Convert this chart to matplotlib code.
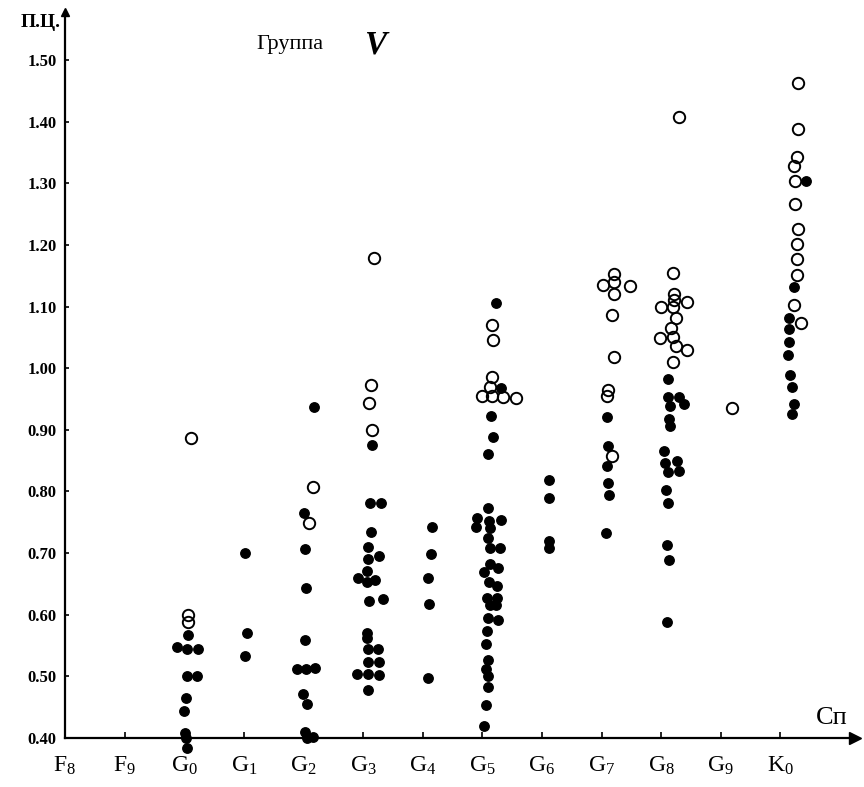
import matplotlib
matplotlib.use('Agg')
import matplotlib.pyplot as plt

# spectral classes along the x axis
classes = [r'$\mathrm{F_8}$', r'$\mathrm{F_9}$', r'$\mathrm{G_0}$', r'$\mathrm{G_1}$',
           r'$\mathrm{G_2}$', r'$\mathrm{G_3}$', r'$\mathrm{G_4}$', r'$\mathrm{G_5}$',
           r'$\mathrm{G_6}$', r'$\mathrm{G_7}$', r'$\mathrm{G_8}$', r'$\mathrm{G_9}$',
           r'$\mathrm{K_0}$']
yticks = [0.40, 0.50, 0.60, 0.70, 0.80, 0.90, 1.00, 1.10, 1.20, 1.30, 1.40, 1.50]

# filled dots: x = class index (with the small side offsets of the drawing), y = colour index
filled_x = [
    2.06, 1.88, 2.05, 2.23, 2.05, 2.22, 2.03, 2.00, 2.01, 2.03, 2.05,  # G0
    3.02, 3.05, 3.02,  # G1
    4.18, 4.01, 4.03, 4.04, 4.03, 3.89, 4.04, 4.20, 3.99, 4.06, 4.03, 4.16, 4.06,  # G2
    5.15, 5.12, 5.30, 5.13, 5.08, 5.27, 5.08, 5.07, 4.92, 5.07, 5.20, 5.10,
    5.34, 5.07, 5.07, 5.08, 5.25, 5.08, 5.27, 4.90, 5.08, 5.27, 5.08,  # G3
    6.16, 6.14, 6.09, 6.11, 6.09,  # G4
    7.23, 7.32, 7.15, 7.18, 7.10, 7.10, 6.91, 7.11, 7.32, 6.90, 7.13, 7.10,
    7.13, 7.30, 7.13, 7.27, 7.03, 7.11, 7.25, 7.08, 7.25, 7.13, 7.23, 7.10,
    7.27, 7.08, 7.06, 7.10, 7.06, 7.10, 7.10, 7.06, 7.03,  # G5
    8.12, 8.12, 8.12, 8.12,  # G6
    9.09, 9.11, 9.09, 9.11, 9.13, 9.08,  # G7
    10.12, 10.12, 10.30, 10.15, 10.39, 10.13, 10.15, 10.05, 10.27, 10.07,
    10.12, 10.30, 10.08, 10.12, 10.10, 10.13, 10.10,  # G8
    12.43, 12.23, 12.15, 12.15, 12.15, 12.13, 12.16, 12.20, 12.22, 12.20,  # K0
]
filled_y = [
    0.567, 0.547, 0.545, 0.544, 0.500, 0.500, 0.465, 0.443, 0.408, 0.400, 0.383,
    0.700, 0.570, 0.533,
    0.937, 0.765, 0.707, 0.644, 0.559, 0.512, 0.512, 0.514, 0.472, 0.455, 0.410, 0.402, 0.400,
    0.876, 0.782, 0.782, 0.735, 0.710, 0.696, 0.691, 0.671, 0.660, 0.653, 0.656, 0.622,
    0.625, 0.570, 0.562, 0.545, 0.545, 0.524, 0.524, 0.503, 0.503, 0.502, 0.478,
    0.743, 0.698, 0.660, 0.618, 0.498,
    1.105, 0.968, 0.923, 0.889, 0.861, 0.773, 0.757, 0.752, 0.753, 0.742, 0.740, 0.725,
    0.708, 0.708, 0.682, 0.675, 0.669, 0.653, 0.647, 0.627, 0.627, 0.616, 0.616, 0.595,
    0.592, 0.573, 0.553, 0.526, 0.512, 0.500, 0.483, 0.453, 0.420,
    0.819, 0.790, 0.720, 0.708,
    0.921, 0.874, 0.841, 0.813, 0.795, 0.732,
    0.982, 0.954, 0.954, 0.939, 0.942, 0.918, 0.906, 0.865, 0.850, 0.846,
    0.831, 0.833, 0.802, 0.782, 0.713, 0.689, 0.588,
    1.303, 1.131, 1.081, 1.063, 1.042, 1.022, 0.989, 0.970, 0.942, 0.925,
]

# open circles
open_x = [
    2.11, 2.06, 2.06,  # G0
    4.16, 4.09,  # G2
    5.19, 5.13, 5.10, 5.15,  # G3
    7.16, 7.18, 7.16, 7.13, 7.00, 7.16, 7.35, 7.57,  # G5
    9.21, 9.03, 9.21, 9.48, 9.20, 9.18, 9.21, 9.11, 9.09, 9.18,  # G7
    10.29, 10.20, 10.22, 10.22, 10.44, 10.00, 10.19, 10.24, 10.17, 9.98,
    10.20, 10.24, 10.44, 10.20,  # G8
    11.19,  # G9
    12.30, 12.30, 12.28, 12.22, 12.25, 12.25, 12.30, 12.27, 12.28, 12.27, 12.22, 12.35,  # K0
]
open_y = [
    0.887, 0.600, 0.588,
    0.807, 0.748,
    1.179, 0.973, 0.944, 0.900,
    1.070, 1.045, 0.985, 0.970, 0.955, 0.955, 0.954, 0.952,
    1.153, 1.135, 1.140, 1.134, 1.121, 1.087, 1.018, 0.965, 0.955, 0.857,
    1.407, 1.155, 1.121, 1.111, 1.108, 1.100, 1.099, 1.082, 1.066, 1.049,
    1.051, 1.036, 1.030, 1.010,
    0.935,
    1.462, 1.388, 1.343, 1.328, 1.303, 1.266, 1.226, 1.202, 1.177, 1.152, 1.103, 1.073,
]

plt.rcParams['font.family'] = ['Liberation Serif', 'DejaVu Serif']
plt.rcParams['mathtext.fontset'] = 'custom'
plt.rcParams['mathtext.rm'] = 'Liberation Serif'

fig = plt.figure(figsize=(8.64, 7.87), dpi=100)
ax = fig.add_axes([0.0752, 0.0623, 0.9144, 0.9225])
ax.set_xlim(0, 13.25)
ax.set_ylim(0.40, 1.578)

ax.plot(filled_x, filled_y, 'o', color='black', markersize=6.8, clip_on=False, zorder=3)
ax.plot(open_x, open_y, 'o', mfc='none', mec='black', mew=1.4, markersize=8.2,
        clip_on=False, zorder=3)

# axes drawn like the hand-made original: two arrows, no box
for side in ['top', 'right']:
    ax.spines[side].set_visible(False)
for side in ['left', 'bottom']:
    ax.spines[side].set_linewidth(1.6)
ax.plot(1, 0, '>', color='black', markersize=9, transform=ax.transAxes, clip_on=False)
ax.plot(0, 1, '^', color='black', markersize=6, transform=ax.transAxes, clip_on=False)

ax.set_xticks(range(len(classes)))
ax.set_xticklabels(classes)
ax.set_yticks(yticks)
ax.set_yticklabels(['%.2f' % v for v in yticks], fontweight='bold')
ax.tick_params(axis='x', direction='in', length=4, width=1.2, pad=12, labelsize=17)
ax.tick_params(axis='y', direction='in', length=3, width=1.2, pad=6, labelsize=12)

fig.text(0.963, 0.088, 'Cп', fontsize=19, ha='center', va='center')
fig.text(0.047, 0.972, 'П.Ц.', fontsize=14, fontweight='bold', ha='center', va='center')
fig.text(0.336, 0.943, 'Группа', fontsize=16, ha='center', va='center')
fig.text(0.434, 0.943, 'V', fontsize=24, fontweight='bold', fontstyle='italic',
         ha='center', va='center')

fig.savefig('out.png', dpi=100)
